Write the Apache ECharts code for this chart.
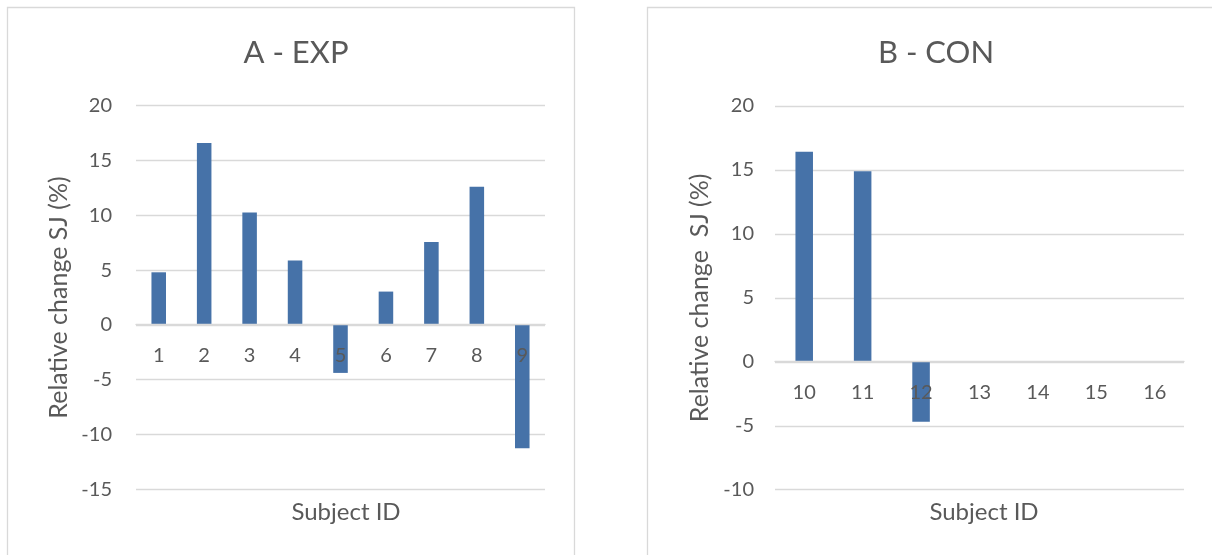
<!DOCTYPE html>
<html>
<head>
<meta charset="utf-8">
<script src="https://cdn.jsdelivr.net/npm/echarts@6/dist/echarts.min.js"></script>
<style>
  html, body { margin: 0; padding: 0; background: #ffffff; }
  #chart { width: 1212px; height: 555px; }
</style>
</head>
<body>
<div id="chart"></div>
<script>
// ---- data ----
const expSubjects = ['1', '2', '3', '4', '5', '6', '7', '8', '9'];
const expValues = [4.8, 16.6, 10.25, 5.87, -4.38, 3.04, 7.57, 12.6, -11.25];
const conSubjects = ['10', '11', '12', '13', '14', '15', '16'];
const conValues = [16.42, 14.89, -4.69, null, null, null, null];
const titleA = 'A - EXP';
const titleB = 'B - CON';
const yNameA = 'Relative change SJ (%)';
const yNameB = 'Relative change  SJ (%)';
const xName = 'Subject ID';

// ---- style ----
const FONT = 'Lato, "Open Sans", sans-serif';
const TXT = '#595959';
const GRID = '#d9d9d9';
const BAR = '#4672a8';

const chart = echarts.init(document.getElementById('chart'), null, { renderer: 'canvas' });

function yAxisCfg(gridIndex, min, name, margin, nameGap) {
  return {
    type: 'value', gridIndex, min, max: 20, interval: 5,
    name, nameLocation: 'middle', nameGap, nameRotate: 90,
    nameTextStyle: { color: TXT, fontFamily: FONT, fontSize: 25 },
    axisLine: { show: false }, axisTick: { show: false },
    axisLabel: { color: TXT, fontFamily: FONT, fontSize: 20, margin },
    splitLine: { lineStyle: { color: GRID, width: 1.3 } }
  };
}
// the category axis sits on the zero line (shifted up from the grid bottom by `offset`)
function xAxisCfg(gridIndex, data, offset) {
  return {
    type: 'category', gridIndex, data, z: 5, offset,
    axisLine: { onZero: false, lineStyle: { color: GRID, width: 1.3 } },
    axisTick: { show: false },
    axisLabel: { color: TXT, fontFamily: FONT, fontSize: 20, margin: 21, interval: 0 },
    splitLine: { show: false }
  };
}

const option = {
  backgroundColor: '#ffffff',
  animation: false,
  graphic: [
    { type: 'rect', shape: { x: 7.5, y: 7.5, width: 567, height: 560 }, style: { fill: 'none', stroke: GRID, lineWidth: 1.3 }, silent: true },
    { type: 'rect', shape: { x: 647.5, y: 7.5, width: 570, height: 560 }, style: { fill: 'none', stroke: GRID, lineWidth: 1.3 }, silent: true }
  ],
  title: [
    { text: titleA, left: 291, top: 32, textAlign: 'center', textStyle: { color: TXT, fontFamily: FONT, fontSize: 31, fontWeight: 'normal' } },
    { text: titleB, left: 931, top: 32, textAlign: 'center', textStyle: { color: TXT, fontFamily: FONT, fontSize: 31, fontWeight: 'normal' } },
    { text: xName, left: 341, top: 495, textAlign: 'center', textStyle: { color: TXT, fontFamily: FONT, fontSize: 24, fontWeight: 'normal' } },
    { text: xName, left: 979, top: 495, textAlign: 'center', textStyle: { color: TXT, fontFamily: FONT, fontSize: 24, fontWeight: 'normal' } }
  ],
  grid: [
    { left: 136, right: 667, top: 105.7, bottom: 65.7 },
    { left: 775, right: 28, top: 106, bottom: 65.3 }
  ],
  xAxis: [ xAxisCfg(0, expSubjects, -165), xAxisCfg(1, conSubjects, -128) ],
  yAxis: [ yAxisCfg(0, -15, yNameA, 24, 65), yAxisCfg(1, -10, yNameB, 21, 63) ],
  series: [
    { type: 'bar', xAxisIndex: 0, yAxisIndex: 0, data: expValues, barWidth: '32%', itemStyle: { color: BAR } },
    { type: 'bar', xAxisIndex: 1, yAxisIndex: 1, data: conValues, barWidth: '30%', itemStyle: { color: BAR } }
  ]
};
chart.setOption(option);
</script>
</body>
</html>
